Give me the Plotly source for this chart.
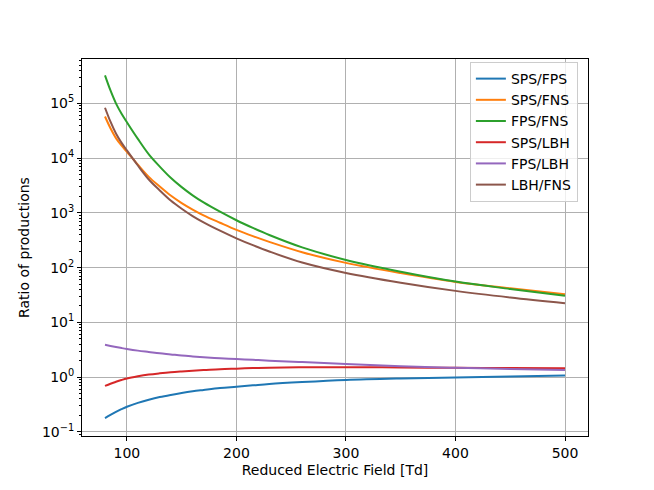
import plotly.graph_objects as go

# Reduced electric field values (Td)
field = [80, 85, 90, 95, 100, 110, 120, 130, 140, 150, 160, 170, 185, 200, 215, 230, 260, 300, 350, 400, 450, 500]

sps_fps = [0.178, 0.204, 0.232, 0.260, 0.288, 0.339, 0.386, 0.432, 0.473, 0.513, 0.550, 0.582, 0.631,
           0.668, 0.708, 0.750, 0.813, 0.887, 0.944, 0.986, 1.03, 1.07]
sps_fns = [5.75e4, 3.51e4, 2.32e4, 1.70e4, 1.30e4, 7.59e3, 4.54e3, 3.02e3, 2.07e3, 1.51e3, 1.15e3, 902,
           661, 490, 376, 295, 191, 122, 79.4, 54.8, 42.0, 32.5]
fps_fns = [3.24e5, 1.72e5, 1.0e5, 6.53e4, 4.52e4, 2.24e4, 1.17e4, 7.0e3, 4.37e3, 2.95e3, 2.09e3, 1.55e3,
           1.05e3, 733, 531, 394, 234, 138, 84.1, 55.6, 40.7, 30.5]
sps_lbh = [0.692, 0.759, 0.822, 0.885, 0.944, 1.035, 1.114, 1.175, 1.23, 1.274, 1.312, 1.343, 1.396,
           1.429, 1.462, 1.49, 1.515, 1.52, 1.50, 1.48, 1.465, 1.45]
fps_lbh = [3.89, 3.72, 3.55, 3.40, 3.27, 3.05, 2.88, 2.72, 2.60, 2.48, 2.39, 2.31, 2.21,
           2.14, 2.07, 2.0, 1.88, 1.73, 1.58, 1.48, 1.41, 1.35]
lbh_fns = [8.32e4, 4.62e4, 2.82e4, 1.92e4, 1.38e4, 7.33e3, 4.07e3, 2.57e3, 1.68e3, 1.19e3, 875, 671,
           473, 343, 257, 197, 124, 80, 53.1, 37.6, 28.5, 22.4]

names = ["SPS/FPS", "SPS/FNS", "FPS/FNS", "SPS/LBH", "FPS/LBH", "LBH/FNS"]
series = [sps_fps, sps_fns, fps_fns, sps_lbh, fps_lbh, lbh_fns]
colors = ["#1f77b4", "#ff7f0e", "#2ca02c", "#d62728", "#9467bd", "#8c564b"]

ytick_vals = [0.1, 1, 10, 100, 1000, 1e4, 1e5]
ytick_text = ["10<sup>−1</sup>", "10<sup>0</sup>", "10<sup>1</sup>", "10<sup>2</sup>",
              "10<sup>3</sup>", "10<sup>4</sup>", "10<sup>5</sup>"]
xtick_vals = [100, 200, 300, 400, 500]
minor_y = [m * 10.0 ** e for e in range(-2, 6) for m in range(2, 10)]

fig = go.Figure()
for i, (name, vals, col) in enumerate(zip(names, series, colors)):
    fig.add_trace(go.Scatter(x=field, y=vals, name=name, mode="lines", legendgroup=f"g{i}",
                             line=dict(color=col, width=2, shape="spline", smoothing=1.0)))

font = dict(family="DejaVu Sans", size=14, color="black")
# page body has an 8px margin, so the figure is placed 8px in from the top-left
fig.update_layout(
    width=646, height=482,
    margin=dict(l=74, r=66, t=51, b=54, autoexpand=False),
    plot_bgcolor="white", paper_bgcolor="white",
    font=font,
    showlegend=True,
    legend=dict(x=0.98, y=0.992, xanchor="right", yanchor="top",
                bgcolor="rgba(255,255,255,0.8)", bordercolor="#cccccc", borderwidth=1,
                font=dict(family="DejaVu Sans", size=14, color="black"),
                itemwidth=30, tracegroupgap=0),
)
fig.update_xaxes(range=[59, 521], tickvals=xtick_vals, ticks="outside", ticklen=4,
                 tickcolor="black", showline=True, linecolor="black", linewidth=1, mirror=True,
                 showgrid=True, gridcolor="#b0b0b0", gridwidth=1, zeroline=False, automargin=False,
                 title=dict(text="Reduced Electric Field [Td]", standoff=5,
                            font=dict(family="DejaVu Sans", size=14, color="black")),
                 tickfont=font)
fig.update_yaxes(type="log", range=[-1.075, 5.81], tickvals=ytick_vals, ticktext=ytick_text,
                 ticks="outside", ticklen=4, tickcolor="black",
                 showline=True, linecolor="black", linewidth=1, mirror=True,
                 showgrid=True, gridcolor="#b0b0b0", gridwidth=1, zeroline=False, automargin=False,
                 minor=dict(ticks="outside", ticklen=2, tickcolor="black", tickvals=minor_y, showgrid=False),
                 title=dict(text="Ratio of productions", standoff=9,
                            font=dict(family="DejaVu Sans", size=14, color="black")),
                 tickfont=font)

fig.write_html("out.html")
